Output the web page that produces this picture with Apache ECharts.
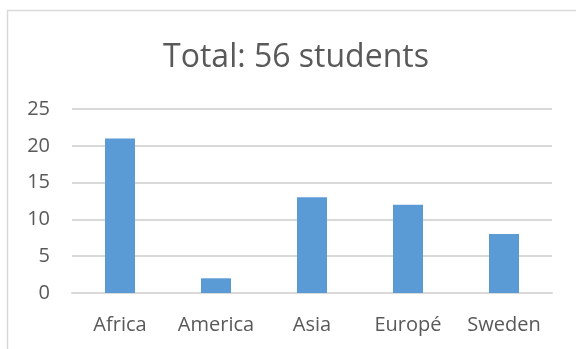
<!DOCTYPE html>
<html>
<head>
<meta charset="utf-8">
<script src="https://cdn.jsdelivr.net/npm/echarts@6/dist/echarts.min.js"></script>
<style>
  html, body { margin: 0; padding: 0; background: #fff; }
  #chart { width: 576px; height: 349px; }
</style>
</head>
<body>
<div id="chart"></div>
<script>
// Students per region of origin
const titleText = 'Total: 56 students';
const regions = ['Africa', 'America', 'Asia', 'Europé', 'Sweden'];
const students = [21, 2, 13, 12, 8];
const yTicks = { min: 0, max: 25, interval: 5 };

const FONT = '"Open Sans", "Noto Sans", sans-serif';
const TEXT_GRAY = '#595959';

const chart = echarts.init(document.getElementById('chart'), null, { renderer: 'canvas' });
chart.setOption({
  animation: false,
  backgroundColor: '#ffffff',
  title: {
    text: titleText,
    left: 291,
    textAlign: 'center',
    top: 37,
    textStyle: { fontFamily: FONT, fontSize: 32, fontWeight: 'normal', color: TEXT_GRAY }
  },
  graphic: [{
    type: 'rect',
    shape: { x: 7.5, y: 10.5, width: 700, height: 500 },
    style: { fill: 'none', stroke: '#d9d9d9', lineWidth: 1.5 },
    silent: true,
    z: -1
  }],
  grid: { left: 72, right: 24, top: 109, bottom: 56, containLabel: false },
  xAxis: {
    type: 'category',
    data: regions,
    axisLine: { show: true, lineStyle: { color: '#d9d9d9', width: 2 } },
    axisTick: { show: false },
    axisLabel: {
      interval: 0,
      hideOverlap: false,
      fontFamily: FONT, fontSize: 20, color: TEXT_GRAY, margin: 22
    }
  },
  yAxis: {
    type: 'value',
    min: yTicks.min,
    max: yTicks.max,
    interval: yTicks.interval,
    axisLine: { show: false },
    axisTick: { show: false },
    axisLabel: { fontFamily: FONT, fontSize: 20, color: TEXT_GRAY, margin: 22 },
    splitLine: { lineStyle: { color: '#d9d9d9', width: 2 } }
  },
  series: [{
    type: 'bar',
    data: students,
    barWidth: 30,
    itemStyle: { color: '#5b9bd5' }
  }]
});
</script>
</body>
</html>
